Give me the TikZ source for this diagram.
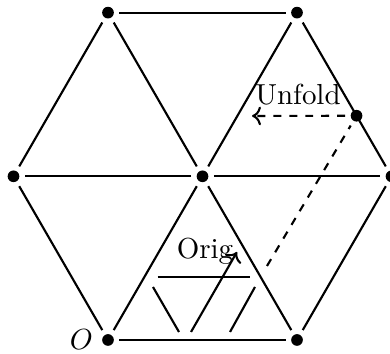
\documentclass[tikz,border=0pt]{standalone}
\usetikzlibrary{calc, arrows.meta}

\begin{document}
\begin{tikzpicture}[
    font=\fontsize{10.9}{13}\selectfont,
    dot/.style={circle, fill, inner sep=0pt, minimum size=4.4pt, outer sep=2.1pt},
    side/.style={thick},
    unfold/.style={thick, dashed}
  ]
  \useasboundingbox (-1.4286,-0.185) rectangle (3.730,4.497);

  % vertices of the hexagon and its centre
  \node[dot, label={[inner sep=0pt, label distance=1.2pt]left:$O$}] (O) at (0,0) {};
  \node[dot] (v1) at (2.5,0) {};
  \node[dot] (v2) at (3.75,2.165) {};
  \node[dot] (v3) at (2.5,4.330) {};
  \node[dot] (v4) at (0,4.330) {};
  \node[dot] (v5) at (-1.25,2.165) {};
  \node[dot] (c) at (1.25,2.165) {};
  \node[dot] (p) at ($(v3)!0.63!(v2)$) {};

  % outline and spokes
  \draw[side] (O) -- (v1);
  \draw[side] (v1) -- (v2);
  \draw[side] (v2) -- (v3);
  \draw[side] (v3) -- (v4);
  \draw[side] (v4) -- (v5);
  \draw[side] (v5) -- (O);
  \foreach \v in {O, v1, v2, v3, v4, v5}
    \draw[side] (c) -- (\v);

  % path inside the original triangle
  \coordinate (h1) at (0.657,0.837);
  \coordinate (h2) at (1.878,0.837);
  \coordinate (a1) at (0.595,0.701);
  \coordinate (a2) at (0.939,0.106);
  \coordinate (b1) at (1.098,0.106);
  \coordinate (b2) at (1.706,1.164);
  \coordinate (r1) at (1.614,0.106);
  \coordinate (r2) at (1.944,0.701);
  \coordinate (q) at (2.103,0.979);
  \coordinate (u) at (1.905,2.963);

  \draw[side] (h1) -- (h2);
  \draw[side] (a1) -- (a2);
  \draw[side, ->] (b1) -- (b2);
  \draw[side] (r1) -- (r2);
  \node (orig) at (1.283,1.17) {Orig};

  % unfolded copy
  \draw[unfold] (q) -- (p);
  \draw[unfold, ->] (p) -- (u);
  \node (unf) at (2.513,3.241) {Unfold};
\end{tikzpicture}
\end{document}
